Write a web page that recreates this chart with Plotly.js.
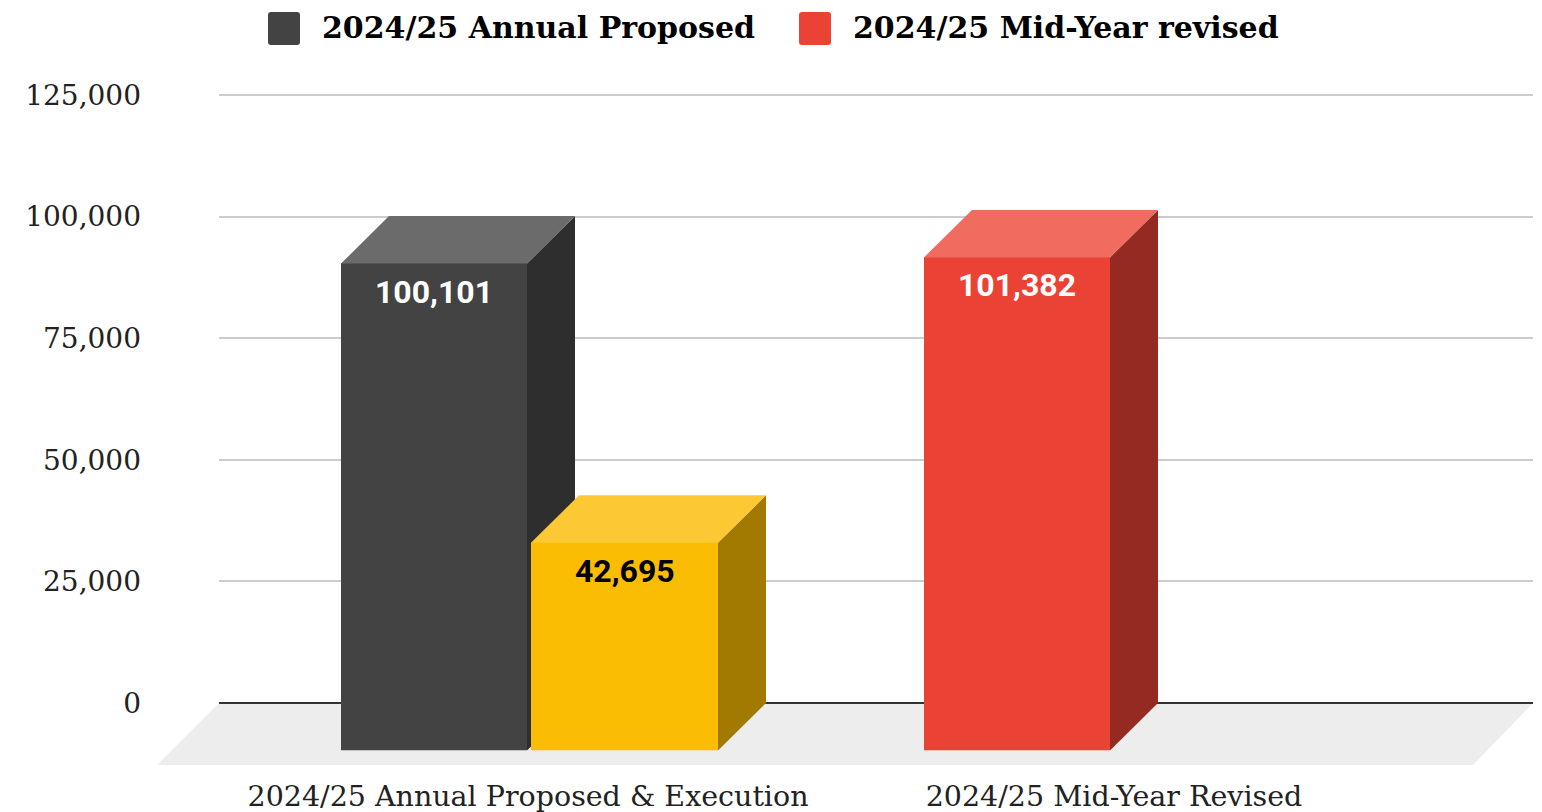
<!DOCTYPE html>
<html>
<head>
<meta charset="utf-8">
<script src="https://cdn.plot.ly/plotly-3.0.1.min.js"></script>
<style>html,body{margin:0;padding:0;background:#fff;overflow:hidden}#chart{width:1542px;height:812px}</style>
</head>
<body>
<div id="chart"></div>
<script>
// Data
const categories = ['2024/25 Annual Proposed & Execution', '2024/25 Mid-Year Revised'];
const annualProposed = [100101];
const execution = [42695];
const midYearRevised = [null, 101382];
const yTicks = [0, 25000, 50000, 75000, 100000, 125000];
const legendLabels = ['2024/25 Annual Proposed', '2024/25 Mid-Year revised'];

// Layout geometry (pixels of the 1542x812 page)
const W = 1542, H = 812;
const topPad = 2;                   // room above the top tick so its gridline is drawn
const back = {l: 219, r: 1533, t: 95 - topPad, b: 703};
const depthPx = 47.5;
const front = {l: back.l - 48, r: back.r - 48, t: back.t + depthPx, b: back.b + depthPx};
const xScale = 586;                 // px per category
const cat0Px = 528;                 // px of first category centre
const yMax = 125000;
const yScale = (703 - 95) / yMax;
const yTop = yMax + topPad / yScale;
const dX = 48 / xScale, dY = depthPx / yScale;
const tuck = 1 / yScale;            // top face runs a pixel behind the front face
const px = v => v / xScale;
const fx = v => v / W, fy = v => 1 - v / H;

const serif = '"DejaVu Serif", serif';
const roboto = 'Roboto, sans-serif';

const barSpecs = [
  {name: legendLabels[0], x: [0], y: annualProposed, off: -187, wid: 186, front: '#434343', side: '#2e2e2e', top: '#6b6b6b', label: '#ffffff'},
  {name: 'Execution',     x: [0], y: execution,      off: 3,    wid: 187, front: '#fbbc04', side: '#a27a00', top: '#fcc934', label: '#000000'},
  {name: legendLabels[1], x: [0, 1], y: midYearRevised, off: -190, wid: 186, front: '#ea4335', side: '#942a22', top: '#ef6c5f', label: '#ffffff'}
];

const traces = barSpecs.map(s => ({
  type: 'bar', name: s.name, x: s.x, y: s.y, xaxis: 'x2', yaxis: 'y2',
  width: px(s.wid), offset: px(s.off),
  marker: {color: s.front, line: {width: 0}},
  showlegend: false,
  hovertemplate: '%{y:,}<extra>' + s.name + '</extra>'
}));
// Invisible trace keeps the back axes (grid, y ticks) alive
traces.unshift({type: 'scatter', mode: 'none', x: [0], y: [0], xaxis: 'x', yaxis: 'y', showlegend: false, hoverinfo: 'skip'});

const shapes = [];
// Floor
const floorPx = [[back.l, back.b], [back.r, back.b], [1473, 765], [157, 765]];
shapes.push({type: 'path', xref: 'paper', yref: 'paper', layer: 'below', line: {width: 0}, fillcolor: '#ededed',
  path: 'M' + floorPx.map(p => fx(p[0]) + ',' + fy(p[1])).join('L') + 'Z'});
// 3D faces computed from the data
const annotations = [];
barSpecs.forEach(s => {
  s.y.forEach((v, i) => {
    if (v === null) return;
    const x0 = s.x[i] + px(s.off), x1 = x0 + px(s.wid);
    shapes.push({type: 'path', xref: 'x2', yref: 'y2', layer: 'below', line: {width: 0}, fillcolor: s.side,
      path: `M${x1},0L${x1 + dX},${dY}L${x1 + dX},${v + dY}L${x1},${v}Z`});
    shapes.push({type: 'path', xref: 'x2', yref: 'y2', layer: 'below', line: {width: 0}, fillcolor: s.top,
      path: `M${x0},${v - tuck}L${x1},${v - tuck}L${x1},${v}L${x1 + dX},${v + dY}L${x0 + dX},${v + dY}L${x0},${v}Z`});
    annotations.push({xref: 'x2', yref: 'y2', x: (x0 + x1) / 2, y: v, yshift: -28, showarrow: false,
      xanchor: 'center', yanchor: 'middle', text: '<b>' + v.toLocaleString('en-US') + '</b>',
      font: {family: roboto, size: 32, color: s.label}});
  });
});
// Legend
[[268, legendLabels[0], '#434343', 320], [799, legendLabels[1], '#ea4335', 851]].forEach(l => {
  const x0 = l[0], x1 = x0 + 32, y0 = 12, y1 = 45, r = 3;
  const P = (x, y) => fx(x) + ',' + fy(y);
  shapes.push({type: 'path', xref: 'paper', yref: 'paper', layer: 'above', line: {width: 0}, fillcolor: l[2],
    path: `M${P(x0 + r, y0)}L${P(x1 - r, y0)}Q${P(x1, y0)} ${P(x1, y0 + r)}L${P(x1, y1 - r)}Q${P(x1, y1)} ${P(x1 - r, y1)}L${P(x0 + r, y1)}Q${P(x0, y1)} ${P(x0, y1 - r)}L${P(x0, y0 + r)}Q${P(x0, y0)} ${P(x0 + r, y0)}Z`});
  annotations.push({xref: 'paper', yref: 'paper', x: fx(l[3]), y: fy(27), xanchor: 'left', yanchor: 'middle', showarrow: false,
    text: '<b>' + l[1] + '</b>', font: {family: serif, size: 30, color: '#000000'}});
});

const layout = {
  width: W, height: H,
  margin: {l: 0, r: 0, t: 0, b: 0, pad: 0},
  paper_bgcolor: '#ffffff', plot_bgcolor: 'rgba(0,0,0,0)',
  showlegend: false, hovermode: 'closest',
  xaxis: {domain: [fx(back.l), fx(back.r)], range: [0, 1], visible: false, fixedrange: true},
  yaxis: {domain: [fy(back.b), fy(back.t)], range: [0, yTop], tickvals: yTicks,
    tickformat: ',d', showline: false, ticks: '', ticklabelstandoff: 77,
    gridcolor: '#cccccc', gridwidth: 2, zeroline: true, zerolinecolor: '#333333', zerolinewidth: 2,
    tickfont: {family: serif, size: 28, color: '#222222'}, fixedrange: true},
  xaxis2: {anchor: 'y2', domain: [fx(front.l), fx(front.r)],
    range: [(front.l - cat0Px) / xScale, (front.r - cat0Px) / xScale],
    tickvals: [0, 1], ticktext: categories, showgrid: false, zeroline: false, showline: false, ticks: '',
    ticklabelstandoff: 26, tickfont: {family: serif, size: 28.5, color: '#222222'}, fixedrange: true},
  yaxis2: {anchor: 'x2', domain: [fy(front.b), fy(front.t)], range: [0, yTop], visible: false, fixedrange: true},
  barmode: 'overlay',
  shapes: shapes,
  annotations: annotations
};
Plotly.newPlot('chart', traces, layout, {displayModeBar: false, responsive: false});
</script>
</body>
</html>
